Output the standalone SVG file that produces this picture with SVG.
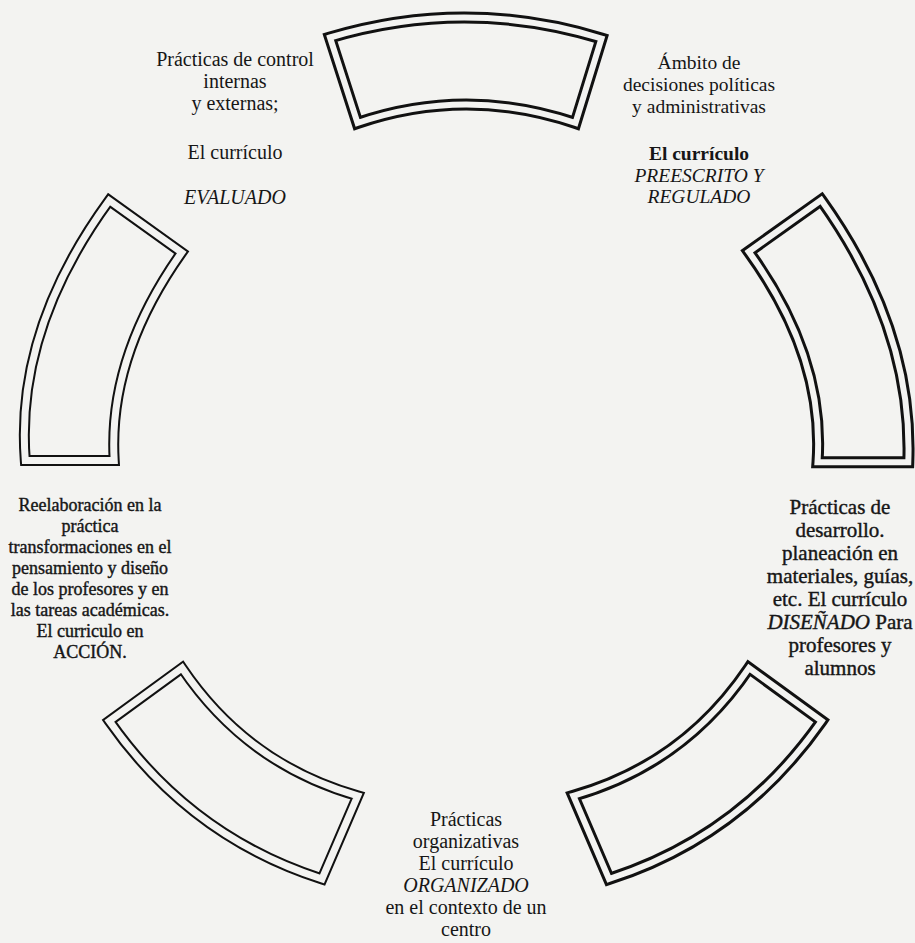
<svg xmlns="http://www.w3.org/2000/svg" xmlns:xlink="http://www.w3.org/1999/xlink" width="915" height="943" viewBox="0 0 915 943">
<style>
.bg{fill:#f3f3f1}
.line{fill:none;stroke:#111;stroke-width:12;stroke-linejoin:miter;stroke-miterlimit:10}
.gap{fill:none;stroke:#f3f3f1;stroke-width:6;stroke-linejoin:miter;stroke-miterlimit:10}
.line.thin{stroke-width:11}
.gap.thin{stroke-width:7}
text{font-family:"Liberation Serif","Times New Roman",serif;fill:#161616;text-anchor:middle}
.t20{font-size:20px}
.t19{font-size:19.5px}
.t21{font-size:21px}
.t18{font-size:18px}
.heavy{stroke:#161616;stroke-width:0.4}
.it{font-style:italic}
.b{font-weight:bold}
</style>
<defs>
<path id="p1" d="M330,37.5 Q466,-3 601.5,38.5 L575.5,123 Q466,86 357.5,123 Z"/>
<path id="p2" d="M748.7,251.7 L821.2,200 Q913.25,328.9 908.3,462.2 L817.5,462.2 Q824.9,357 748.7,251.7 Z"/>
<path id="p3" d="M573.3,795.8 Q684.05,764.3 749,668 L821.7,721 Q740.65,836.8 609,879 Z"/>
<path id="p4" d="M357.7,795.8 Q246.95,764.3 182,668 L109.3,721 Q190.35,836.8 322,879 Z"/>
<path id="p5" d="M109.2,200.5 L181.7,252.5 Q108,356.5 114.2,460.5 L25.3,460.5 Q15.15,329.5 109.2,200.5 Z"/>
</defs>
<rect class="bg" x="0" y="0" width="915" height="943"/>
<g id="arc-top"><use xlink:href="#p1" class="line"/><use xlink:href="#p1" class="gap"/></g>
<g id="arc-right"><use xlink:href="#p2" class="line"/><use xlink:href="#p2" class="gap"/></g>
<g id="arc-bottom-right"><use xlink:href="#p3" class="line"/><use xlink:href="#p3" class="gap"/></g>
<g id="arc-bottom-left"><use xlink:href="#p4" class="line thin"/><use xlink:href="#p4" class="gap thin"/></g>
<g id="arc-left"><use xlink:href="#p5" class="line thin"/><use xlink:href="#p5" class="gap thin"/></g>
<g id="connectors"></g>
<g id="label-evaluado" class="t20">
<text x="235" y="66">Prácticas de control</text>
<text x="235" y="88">internas</text>
<text x="235" y="110">y externas;</text>
<text x="235" y="159">El currículo</text>
<text x="235" y="204" class="it">EVALUADO</text>
</g>
<g id="label-prescrito" class="t19">
<text x="699" y="69">Ámbito de</text>
<text x="699" y="91">decisiones políticas</text>
<text x="699" y="113">y administrativas</text>
<text x="699" y="160" class="b">El currículo</text>
<text x="699" y="181.5" class="it">PREESCRITO Y</text>
<text x="699" y="203" class="it">REGULADO</text>
</g>
<g id="label-disenado" class="t21 heavy">
<text x="840" y="514">Prácticas de</text>
<text x="840" y="537">desarrollo.</text>
<text x="840" y="560">planeación en</text>
<text x="840" y="583">materiales, guías,</text>
<text x="840" y="606">etc. El currículo</text>
<text x="840" y="629"><tspan class="it">DISEÑADO</tspan> Para</text>
<text x="840" y="652">profesores y</text>
<text x="840" y="675">alumnos</text>
</g>
<g id="label-organizado" class="t20">
<text x="466" y="826">Prácticas</text>
<text x="466" y="848">organizativas</text>
<text x="466" y="870">El currículo</text>
<text x="466" y="892" class="it">ORGANIZADO</text>
<text x="466" y="914">en el contexto de un</text>
<text x="466" y="936">centro</text>
</g>
<g id="label-accion" class="t18 heavy">
<text x="90" y="511">Reelaboración en la</text>
<text x="90" y="532">práctica</text>
<text x="90" y="553">transformaciones en el</text>
<text x="90" y="574">pensamiento y diseño</text>
<text x="90" y="595">de los profesores y en</text>
<text x="90" y="616">las tareas académicas.</text>
<text x="90" y="637">El curriculo en</text>
<text x="90" y="658">ACCIÓN.</text>
</g>
</svg>
